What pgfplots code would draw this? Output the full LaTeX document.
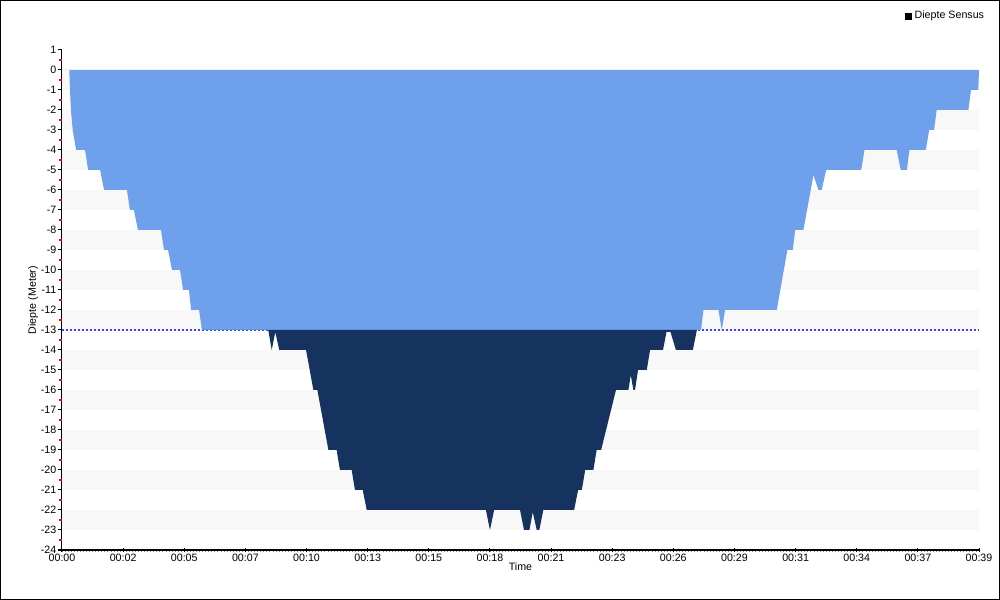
\documentclass[border=0pt]{standalone}
\usepackage{fontspec}
\setmainfont{Liberation Sans}
\usepackage{pgfplots}
\pgfplotsset{compat=1.18}
\definecolor{lightfill}{HTML}{6FA0EC}
\definecolor{darkfill}{HTML}{163360}
\definecolor{bandgray}{HTML}{F8F8F8}
\definecolor{refline}{RGB}{64,64,255}
\begin{document}
\begin{tikzpicture}
\useasboundingbox (-46.5pt,-37.5pt) rectangle (703.5pt,412.5pt);
\draw[line width=0.75pt] (-46.125pt,-37.125pt) rectangle (703.125pt,412.125pt);
\begin{axis}[
  at={(0,0)}, anchor=south west,
  scale only axis, width=687.75pt, height=375pt,
  xmin=0, xmax=39, ymin=-24, ymax=1,
  axis x line*=bottom, axis y line*=left,
  axis line style={line width=0.75pt, black},
  font=\fontsize{8pt}{9.6pt}\selectfont,
  /pgf/number format/assume math mode=true,
  xtick={0,2.6,5.2,7.8,10.4,13,15.6,18.2,20.8,23.4,26,28.6,31.2,33.8,36.4,39},
  xticklabels={00:00,00:02,00:05,00:07,00:10,00:13,00:15,00:18,00:21,00:23,00:26,00:29,00:31,00:34,00:37,00:39},
  ytick={-24,-23,...,1},
  minor xtick={0,0.13,...,39},
  tick align=outside,
  major tick length=3pt,
  minor tick length=1.8pt,
  major tick style={black, line width=0.75pt},
  major x tick style={yshift=1.5pt},
  minor x tick style={draw=gray, line width=0.6pt},
  extra y ticks={-23.5,-22.5,...,0.5},
  extra y tick labels={},
  extra y tick style={major tick length=2.25pt, major tick style={draw=red, line width=1pt}},
  xticklabel style={yshift=3.75pt},
  yticklabel style={xshift=2.25pt},
  xlabel={Time}, ylabel={Diepte (Meter)},
  xlabel style={at={(axis description cs:0.5,0)}, anchor=center, yshift=-12.75pt},
  ylabel style={at={(axis description cs:0,0.5)}, anchor=center, yshift=21.75pt},
  legend style={at={(axis description cs:1.0087,1.084)}, anchor=north east, draw=none, fill=none,
    font=\fontsize{8pt}{9.6pt}\selectfont, inner sep=0pt, legend cell align=left},
  clip=false,
]
\fill[bandgray] (axis cs:0,0) rectangle (axis cs:39,-1);
\fill[bandgray] (axis cs:0,-2) rectangle (axis cs:39,-3);
\fill[bandgray] (axis cs:0,-4) rectangle (axis cs:39,-5);
\fill[bandgray] (axis cs:0,-6) rectangle (axis cs:39,-7);
\fill[bandgray] (axis cs:0,-8) rectangle (axis cs:39,-9);
\fill[bandgray] (axis cs:0,-10) rectangle (axis cs:39,-11);
\fill[bandgray] (axis cs:0,-12) rectangle (axis cs:39,-13);
\fill[bandgray] (axis cs:0,-14) rectangle (axis cs:39,-15);
\fill[bandgray] (axis cs:0,-16) rectangle (axis cs:39,-17);
\fill[bandgray] (axis cs:0,-18) rectangle (axis cs:39,-19);
\fill[bandgray] (axis cs:0,-20) rectangle (axis cs:39,-21);
\fill[bandgray] (axis cs:0,-22) rectangle (axis cs:39,-23);
\addplot[color=refline, line width=0.9pt, dash pattern=on 1.5pt off 1.5pt, forget plot] coordinates {(0,-13) (39,-13)};
% part of the depth profile above the -13 m line
\addplot[fill=lightfill, draw=none, forget plot] coordinates {
(0,0) (0.31,0) (0.34,-1) (0.38,-2) (0.455,-3) (0.60,-4) (0.98,-4) (1.11,-5) (1.62,-5) (1.79,-6)
(2.76,-6) (2.89,-7) (3.06,-7) (3.23,-8) (4.21,-8) (4.34,-9) (4.51,-9) (4.68,-10) (5.02,-10)
(5.15,-11) (5.40,-11) (5.49,-12) (5.83,-12) (5.95,-13) (27.18,-13) (27.28,-12) (27.92,-12) (28.06,-13) (28.20,-12) (30.40,-12)
(30.85,-9) (31.08,-9) (31.18,-8) (31.53,-8) (31.96,-5.25) (32.17,-6) (32.31,-6) (32.50,-5)
(33.99,-5) (34.13,-4) (35.50,-4) (35.67,-5) (35.93,-5) (36.04,-4) (36.74,-4) (36.88,-3)
(37.09,-3) (37.20,-2) (38.55,-2) (38.66,-1) (38.97,-1) (39,0)
};
% part of the depth profile below the -13 m line
\addplot[fill=darkfill, draw=none, forget plot] coordinates {
(5.95,-13) (8.77,-13) (8.92,-14) (9.07,-13.1)
(9.24,-14) (10.38,-14) (10.69,-16) (10.86,-16) (11.33,-19) (11.68,-19) (11.82,-20) (12.32,-20)
(12.46,-21) (12.79,-21) (12.96,-22) (18.03,-22) (18.20,-23) (18.38,-22) (19.48,-22) (19.65,-23)
(19.88,-23) (20.02,-22.1) (20.19,-23) (20.30,-23) (20.47,-22) (21.78,-22) (21.95,-21) (22.11,-21)
(22.25,-20) (22.60,-20) (22.74,-19) (22.93,-19) (23.56,-16) (24.09,-16) (24.19,-15.25) (24.30,-16)
(24.37,-16) (24.50,-15) (24.87,-15) (25.01,-14) (25.56,-14) (25.71,-13.1) (25.88,-13.1) (26.11,-14)
(26.83,-14) (27.00,-13)
};
\addlegendimage{legend image code/.code={\fill[black] (0pt,-2.25pt) rectangle (4.5pt,2.25pt);}}
\addlegendentry{Diepte Sensus}
\end{axis}
\end{tikzpicture}
\end{document}
